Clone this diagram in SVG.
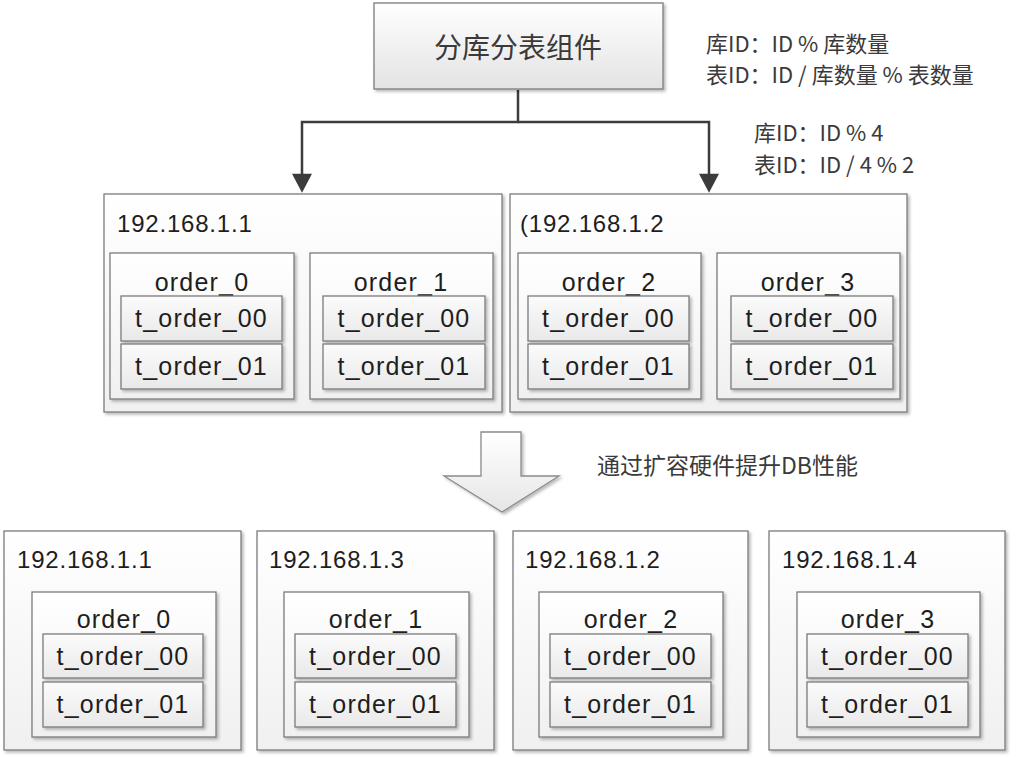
<svg xmlns="http://www.w3.org/2000/svg" width="1016" height="757" viewBox="0 0 1016 757">
<defs>
  <linearGradient id="gTop" x1="0" y1="0" x2="0" y2="1">
    <stop offset="0" stop-color="#ffffff"/>
    <stop offset="1" stop-color="#e3e3e3"/>
  </linearGradient>
  <linearGradient id="gBox" x1="0" y1="0" x2="0" y2="1">
    <stop offset="0" stop-color="#ffffff"/>
    <stop offset="1" stop-color="#f0f0f0"/>
  </linearGradient>
  <linearGradient id="gTbl" x1="0" y1="0" x2="0" y2="1">
    <stop offset="0" stop-color="#fbfbfb"/>
    <stop offset="1" stop-color="#e9e9e9"/>
  </linearGradient>
  <linearGradient id="gArrow" x1="0" y1="0" x2="0" y2="1">
    <stop offset="0" stop-color="#ffffff"/>
    <stop offset="1" stop-color="#e6e6e6"/>
  </linearGradient>
  <filter id="sh" x="-5%" y="-5%" width="115%" height="115%">
    <feDropShadow dx="2" dy="2" stdDeviation="1.5" flood-color="#000" flood-opacity="0.28"/>
  </filter>
  <marker id="arr" markerUnits="userSpaceOnUse" markerWidth="20" markerHeight="20" viewBox="0 0 18 19" refX="4" refY="9.5" orient="auto">
    <path d="M0,0 L18,9.5 L0,19 z" fill="#3c3c3c"/>
  </marker>
  <style>
    .srv{fill:url(#gBox);stroke:#7c7c7c;stroke-width:1.3;filter:url(#sh)}
    .db{fill:url(#gBox);stroke:#7c7c7c;stroke-width:1.3;filter:url(#sh)}
    .tb{fill:url(#gTbl);stroke:#7c7c7c;stroke-width:1.3;filter:url(#sh)}
    .top{fill:url(#gTop);stroke:#7c7c7c;stroke-width:1.3;filter:url(#sh)}
    .ip{font-family:"Liberation Sans",Arial,sans-serif;font-size:24px;letter-spacing:0.8px;fill:#1e1e1e}
    .lb{font-family:"Liberation Sans",Arial,sans-serif;font-size:25px;letter-spacing:1.2px;fill:#1e1e1e;text-anchor:middle}
    .cn{font-family:"Noto Sans CJK SC",sans-serif;fill:#3a3a3a}
    .conn{fill:none;stroke:#3c3c3c;stroke-width:2.5}
  </style>
</defs>
<rect width="1016" height="757" fill="#ffffff"/>

<g id="connectors">
  <path class="conn" d="M518,90 V122 H302 V178" marker-end="url(#arr)"/>
  <path class="conn" d="M518,122 H709 V178" marker-end="url(#arr)"/>
</g>

<g id="sharding-component">
  <rect class="top" x="374" y="3" width="289" height="86"/>
  <text class="cn" x="518" y="58" font-size="28" text-anchor="middle">分库分表组件</text>
</g>

<g id="formula-generic">
  <text class="cn" x="706" y="52" font-size="22">库ID：ID % 库数量</text>
  <text class="cn" x="706" y="83" font-size="22">表ID：ID / 库数量 % 表数量</text>
</g>
<g id="formula-concrete">
  <text class="cn" x="754" y="141" font-size="22">库ID：ID % 4</text>
  <text class="cn" x="754" y="173" font-size="22">表ID：ID / 4 % 2</text>
</g>

<!-- Middle row -->
<g id="server-m1">
  <rect class="srv" x="104" y="194" width="398" height="218"/>
  <text class="ip" x="117" y="232">192.168.1.1</text>
  <g id="m1-order_0">
    <rect class="db" x="110" y="253" width="184" height="146"/>
    <text class="lb" x="202" y="291">order_0</text>
    <g id="m1-order_0-t00"><rect class="tb" x="121" y="296" width="161" height="45"/><text class="lb" x="201.5" y="327">t_order_00</text></g>
    <g id="m1-order_0-t01"><rect class="tb" x="121" y="344" width="161" height="45"/><text class="lb" x="201.5" y="375">t_order_01</text></g>
  </g>
  <g id="m1-order_1">
    <rect class="db" x="310" y="253" width="183" height="146"/>
    <text class="lb" x="401" y="291">order_1</text>
    <g id="m1-order_1-t00"><rect class="tb" x="323" y="296" width="162" height="45"/><text class="lb" x="404" y="327">t_order_00</text></g>
    <g id="m1-order_1-t01"><rect class="tb" x="323" y="344" width="162" height="45"/><text class="lb" x="404" y="375">t_order_01</text></g>
  </g>
</g>

<g id="server-m2">
  <rect class="srv" x="510" y="194" width="397" height="218"/>
  <text class="ip" x="520" y="232">(192.168.1.2</text>
  <g id="m2-order_2">
    <rect class="db" x="518" y="253" width="183" height="146"/>
    <text class="lb" x="609" y="291">order_2</text>
    <g id="m2-order_2-t00"><rect class="tb" x="528" y="296" width="161" height="45"/><text class="lb" x="608.5" y="327">t_order_00</text></g>
    <g id="m2-order_2-t01"><rect class="tb" x="528" y="344" width="161" height="45"/><text class="lb" x="608.5" y="375">t_order_01</text></g>
  </g>
  <g id="m2-order_3">
    <rect class="db" x="717" y="253" width="183" height="146"/>
    <text class="lb" x="808" y="291">order_3</text>
    <g id="m2-order_3-t00"><rect class="tb" x="731" y="296" width="162" height="45"/><text class="lb" x="812" y="327">t_order_00</text></g>
    <g id="m2-order_3-t01"><rect class="tb" x="731" y="344" width="162" height="45"/><text class="lb" x="812" y="375">t_order_01</text></g>
  </g>
</g>

<!-- Big arrow -->
<g id="scale-arrow">
  <polygon points="481,432 521,432 521,476 559,476 502,512 444,476 481,476" fill="url(#gArrow)" stroke="#8a8a8a" stroke-width="1.3" filter="url(#sh)"/>
  <text class="cn" x="597" y="474" font-size="23">通过扩容硬件提升DB性能</text>
</g>

<!-- Bottom row -->
<g id="server-b1">
  <rect class="srv" x="4" y="531" width="237" height="219"/>
  <text class="ip" x="17" y="568">192.168.1.1</text>
  <g id="b1-order_0">
    <rect class="db" x="32" y="592" width="184" height="145"/>
    <text class="lb" x="124" y="628">order_0</text>
    <g id="b1-t00"><rect class="tb" x="43" y="634" width="160" height="44"/><text class="lb" x="123" y="665">t_order_00</text></g>
    <g id="b1-t01"><rect class="tb" x="43" y="682" width="160" height="45"/><text class="lb" x="123" y="713">t_order_01</text></g>
  </g>
</g>

<g id="server-b2">
  <rect class="srv" x="257" y="531" width="237" height="219"/>
  <text class="ip" x="269" y="568">192.168.1.3</text>
  <g id="b2-order_1">
    <rect class="db" x="284" y="592" width="185" height="145"/>
    <text class="lb" x="376" y="628">order_1</text>
    <g id="b2-t00"><rect class="tb" x="295" y="634" width="161" height="44"/><text class="lb" x="375.5" y="665">t_order_00</text></g>
    <g id="b2-t01"><rect class="tb" x="295" y="682" width="161" height="45"/><text class="lb" x="375.5" y="713">t_order_01</text></g>
  </g>
</g>

<g id="server-b3">
  <rect class="srv" x="513" y="531" width="235" height="219"/>
  <text class="ip" x="525" y="568">192.168.1.2</text>
  <g id="b3-order_2">
    <rect class="db" x="539" y="592" width="184" height="145"/>
    <text class="lb" x="631" y="628">order_2</text>
    <g id="b3-t00"><rect class="tb" x="550" y="634" width="161" height="44"/><text class="lb" x="630.5" y="665">t_order_00</text></g>
    <g id="b3-t01"><rect class="tb" x="550" y="682" width="161" height="45"/><text class="lb" x="630.5" y="713">t_order_01</text></g>
  </g>
</g>

<g id="server-b4">
  <rect class="srv" x="769" y="531" width="236" height="219"/>
  <text class="ip" x="782" y="568">192.168.1.4</text>
  <g id="b4-order_3">
    <rect class="db" x="797" y="592" width="183" height="145"/>
    <text class="lb" x="888" y="628">order_3</text>
    <g id="b4-t00"><rect class="tb" x="807" y="634" width="161" height="44"/><text class="lb" x="887.5" y="665">t_order_00</text></g>
    <g id="b4-t01"><rect class="tb" x="807" y="682" width="161" height="45"/><text class="lb" x="887.5" y="713">t_order_01</text></g>
  </g>
</g>
</svg>
